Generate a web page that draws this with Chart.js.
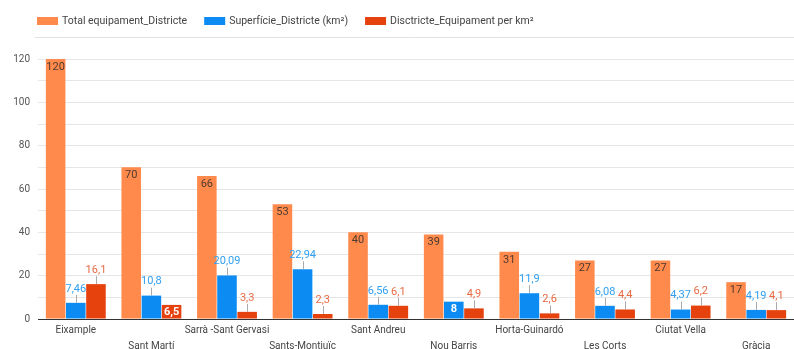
<!DOCTYPE html>
<html>
<head>
<meta charset="utf-8">
<script src="https://cdn.jsdelivr.net/npm/chart.js@4"></script>
<style>
  html, body { margin: 0; padding: 0; background: #fff; }
  #wrap { width: 794px; height: 349px; overflow: hidden; }
</style>
</head>
<body>
<div id="wrap"><canvas id="chart" width="794" height="349"></canvas></div>
<script>
const districtes = ['Eixample', 'Sant Martí', 'Sarrà -Sant Gervasi', 'Sants-Montjuïc', 'Sant Andreu',
    'Nou Barris', 'Horta-Guinardó', 'Les Corts', 'Ciutat Vella', 'Gràcia'];
const totalEquipament = [120, 70, 66, 53, 40, 39, 31, 27, 27, 17];
const superficie = [7.46, 10.8, 20.09, 22.94, 6.56, 8, 11.9, 6.08, 4.37, 4.19];
const equipamentPerKm2 = [16.1, 6.5, 3.3, 2.3, 6.1, 4.9, 2.6, 4.4, 6.2, 4.1];
const yTicks = [0, 20, 40, 60, 80, 100, 120];

const FONT = 'Roboto, "Noto Sans", sans-serif';

function fmt(v) {
    return String(v).replace('.', ',');
}

// which labels sit inside their bar (by dataset)
const insideIdx = { 1: [5], 2: [1] };
const labelColors = ['#4e3b31', '#2f9ff2', '#e76a43'];

const valueLabels = {
    id: 'valueLabels',
    afterDatasetsDraw(chart) {
        const ctx = chart.ctx;
        ctx.save();
        ctx.textAlign = 'center';
        ctx.textBaseline = 'middle';
        chart.data.datasets.forEach(function(ds, di) {
            const meta = chart.getDatasetMeta(di);
            meta.data.forEach(function(bar, i) {
                const txt = fmt(ds.data[i]);
                if (di === 0) {
                    ctx.font = '11px ' + FONT;
                    ctx.fillStyle = labelColors[0];
                    ctx.fillText(txt, bar.x, bar.y + 8);
                } else if ((insideIdx[di] || []).includes(i)) {
                    ctx.font = 'bold 11px ' + FONT;
                    ctx.fillStyle = '#ffffff';
                    ctx.fillText(txt, bar.x, bar.y + 7.5);
                } else {
                    ctx.strokeStyle = '#aaaaaa';
                    ctx.lineWidth = 1;
                    ctx.beginPath();
                    ctx.moveTo(Math.round(bar.x) + 0.5, bar.y);
                    ctx.lineTo(Math.round(bar.x) + 0.5, bar.y - 8);
                    ctx.stroke();
                    ctx.font = '11px ' + FONT;
                    ctx.fillStyle = labelColors[di];
                    ctx.fillText(txt, bar.x, bar.y - 14);
                }
            });
        });
        ctx.restore();
    }
};

const topLegend = {
    id: 'topLegend',
    afterDraw(chart) {
        const ctx = chart.ctx;
        ctx.save();
        ctx.font = '10.5px ' + FONT;
        ctx.textBaseline = 'middle';
        let x = 37;
        chart.data.datasets.forEach(function(ds) {
            ctx.fillStyle = ds.backgroundColor;
            ctx.fillRect(x, 17, 21, 8);
            ctx.fillStyle = '#444444';
            ctx.fillText(ds.label, x + 25, 21.5);
            x += 25 + ctx.measureText(ds.label).width + 17;
        });
        ctx.strokeStyle = '#e2e2e2';
        ctx.lineWidth = 1;
        ctx.beginPath();
        ctx.moveTo(35, 37.5);
        ctx.lineTo(794, 37.5);
        ctx.stroke();
        ctx.restore();
    }
};

const ctx = document.getElementById('chart').getContext('2d');

new Chart(ctx, {
    type: 'bar',
    data: {
        labels: districtes,
        datasets: [{
            label: 'Total equipament_Districte',
            data: totalEquipament,
            backgroundColor: '#ff8a4c'
        }, {
            label: 'Superfície_Districte (km²)',
            data: superficie,
            backgroundColor: '#0c8cf2'
        }, {
            label: 'Disctricte_Equipament per km²',
            data: equipamentPerKm2,
            backgroundColor: '#e5420e'
        }]
    },
    options: {
        responsive: false,
        animation: false,
        layout: {
            padding: { top: 59, right: -4, left: 0, bottom: 0 }
        },
        datasets: {
            bar: {
                categoryPercentage: 0.8,
                barPercentage: 0.97
            }
        },
        plugins: {
            legend: { display: false },
            tooltip: { enabled: false }
        },
        scales: {
            x: {
                grid: { display: false, drawTicks: false },
                border: { display: false },
                ticks: {
                    autoSkip: false,
                    maxRotation: 0,
                    padding: 4,
                    color: '#444444',
                    font: { family: FONT, size: 10, lineHeight: 1.55 },
                    callback: function(val, i) {
                        const name = districtes[i];
                        return i % 2 ? ['', name] : name;
                    }
                },
                afterFit: function(scale) {
                    scale.height = 30;
                }
            },
            y: {
                min: 0,
                max: 120,
                border: { display: false },
                grid: {
                    drawTicks: false,
                    color: function(c) {
                        return c.tick && c.tick.value === 0 ? '#333333' : '#e6e6e6';
                    }
                },
                ticks: {
                    stepSize: 10,
                    padding: 8,
                    color: '#555555',
                    font: { family: FONT, size: 10 },
                    callback: function(v) {
                        return yTicks.includes(v) ? v : '';
                    }
                },
                afterFit: function(scale) {
                    scale.width = 38;
                }
            }
        }
    },
    plugins: [valueLabels, topLegend]
});
</script>
</body>
</html>
